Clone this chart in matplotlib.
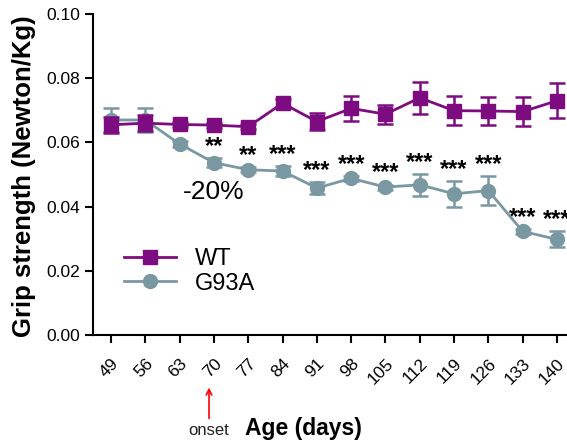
import matplotlib
matplotlib.use("Agg")
import matplotlib.pyplot as plt
from matplotlib.lines import Line2D

plt.rcParams['font.family'] = ['Liberation Sans', 'DejaVu Sans']

days = [49, 56, 63, 70, 77, 84, 91, 98, 105, 112, 119, 126, 133, 140]
wt_mean = [0.0655, 0.066, 0.0656, 0.0654, 0.0649, 0.0722, 0.0665, 0.0706, 0.0688, 0.0739, 0.0699, 0.0698, 0.0696, 0.0730]
wt_err = [0.0025, 0.0025, 0.0008, 0.0008, 0.0008, 0.0012, 0.0027, 0.004, 0.003, 0.005, 0.0045, 0.0045, 0.0045, 0.0055]
g_mean = [0.067, 0.067, 0.0595, 0.0537, 0.0515, 0.0511, 0.0458, 0.0488, 0.0461, 0.0468, 0.0440, 0.0450, 0.0323, 0.0298]
g_err = [0.0038, 0.0038, 0.0008, 0.0015, 0.0008, 0.0015, 0.0018, 0.0008, 0.0008, 0.0035, 0.004, 0.0045, 0.0008, 0.0025]
stars = ["", "", "", "**", "**", "***", "***", "***", "***", "***", "***", "***", "***", "***"]
yticks = [0.00, 0.02, 0.04, 0.06, 0.08, 0.10]

WT_C = "#7D0C80"
G_C = "#7A98A2"

fig = plt.figure(figsize=(5.67, 4.45), dpi=100)
ax = fig.add_axes([0.164, 0.247, 0.836, 0.7215])

ax.errorbar(days, g_mean, yerr=g_err, color=G_C, marker='o', markersize=10,
            lw=2, capsize=6, capthick=1.8, elinewidth=1.8, zorder=3)
ax.errorbar(days, wt_mean, yerr=wt_err, color=WT_C, marker='s', markersize=10,
            lw=2, capsize=6, capthick=1.8, elinewidth=1.8, zorder=4)

for d, m, e, s in zip(days, g_mean, g_err, stars):
    if s:
        ax.annotate(s, (d, m + e), xytext=(0, 0), textcoords='offset points',
                    ha='center', va='bottom', fontsize=17, fontweight='bold',
                    annotation_clip=False)

ax.text(70, 0.0445, "-20%", ha='center', va='center', fontsize=19)

ax.set_xlim(45.33, 142.04)
ax.set_ylim(0, 0.10)
ax.set_xticks(days)
ax.set_xticklabels([str(d) for d in days], rotation=45, fontsize=12.5,
                   ha='right', va='top', rotation_mode='anchor')
ax.set_yticks(yticks)
ax.set_yticklabels([f"{v:.2f}" for v in yticks], fontsize=12.5)
ax.tick_params(direction='out', length=6, width=1.5)
ax.tick_params(axis='x', pad=9)
for sp in ['top', 'right']:
    ax.spines[sp].set_visible(False)
for sp in ['left', 'bottom']:
    ax.spines[sp].set_linewidth(1.5)

ax.set_ylabel("Grip strength (Newton/Kg)", fontsize=18.5, fontweight='bold')
ax.yaxis.set_label_coords(-0.120, 0.495)
ax.set_xlabel("Age (days)", fontsize=16.5, fontweight='bold')
ax.xaxis.set_label_coords(0.443, -0.255)

handles = [Line2D([], [], color=WT_C, marker='s', markersize=10, lw=2),
           Line2D([], [], color=G_C, marker='o', markersize=10, lw=2)]
ax.legend(handles, ['WT', 'G93A'], loc='lower left', bbox_to_anchor=(0.02, 0.06),
          frameon=False, fontsize=17, handlelength=2.2, labelspacing=0.1,
          handletextpad=0.8)

ax.annotate("", xy=(69, -0.0155), xytext=(69, -0.0268), xycoords='data',
            arrowprops=dict(arrowstyle='->', color='red', lw=1.2), annotation_clip=False)
ax.text(69, -0.0298, "onset", ha='center', va='center', fontsize=12, color='#222222')

fig.savefig("out.png", dpi=100)
